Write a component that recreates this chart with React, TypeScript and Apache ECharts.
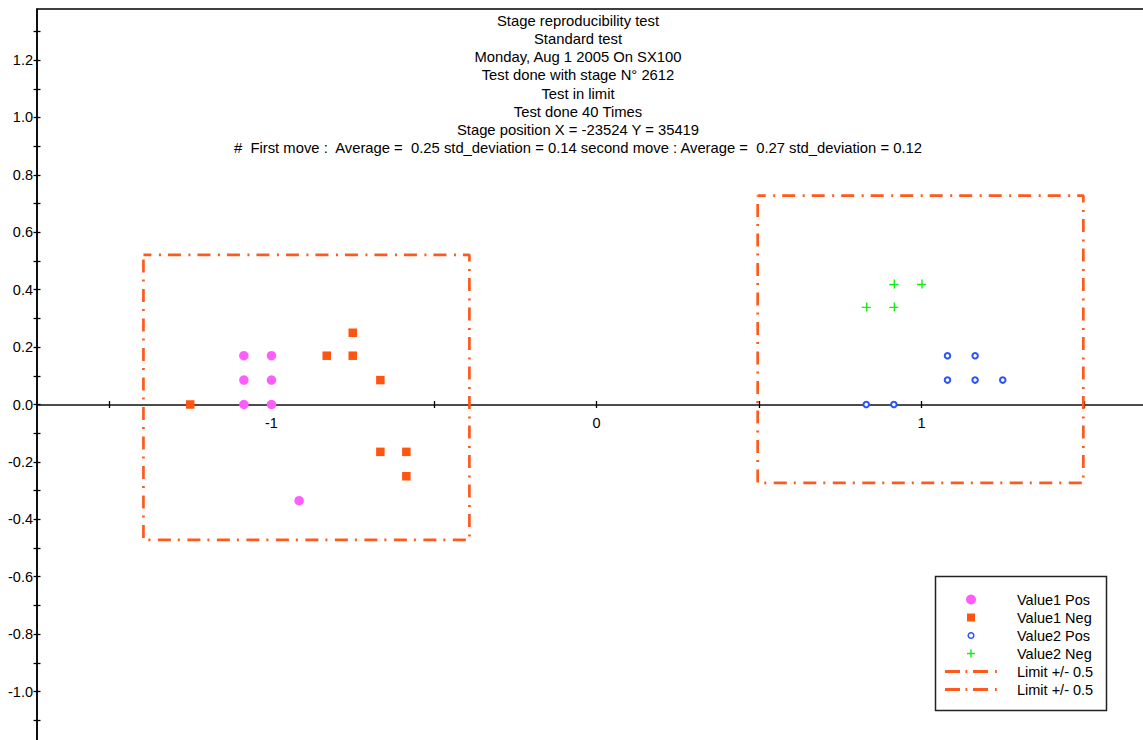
import React, { useEffect, useRef } from "react";
import * as echarts from "echarts";

// Header lines printed above the plot
const titleLines = [
  "Stage reproducibility test",
  "Standard test",
  "Monday, Aug 1 2005 On SX100",
  "Test done with stage N° 2612",
  "Test in limit",
  "Test done 40 Times",
  "Stage position X = -23524 Y = 35419",
  "#  First move :  Average =  0.25 std_deviation = 0.14 second move : Average =  0.27 std_deviation = 0.12",
];

// Measured stage offsets [x, y]
const value1Pos: [number, number][] = [
  [-1.085, 0.17], [-1.0, 0.17],
  [-1.085, 0.085], [-1.0, 0.085],
  [-1.085, 0], [-1.0, 0],
  [-0.915, -0.335],
];
const value1Neg: [number, number][] = [
  [-1.25, 0],
  [-0.83, 0.17],
  [-0.75, 0.25], [-0.75, 0.17],
  [-0.665, 0.085],
  [-0.665, -0.165], [-0.585, -0.165],
  [-0.585, -0.25],
];
const value2Pos: [number, number][] = [
  [1.08, 0.17], [1.165, 0.17],
  [1.08, 0.085], [1.165, 0.085], [1.25, 0.085],
  [0.83, 0], [0.915, 0],
];
const value2Neg: [number, number][] = [
  [0.915, 0.42], [1.0, 0.42],
  [0.83, 0.34], [0.915, 0.34],
];

// Tolerance boxes (+/- 0.5 around each move)
const limitBox1: [number, number][] = [
  [-1.394, 0.521], [-0.391, 0.521], [-0.391, -0.472], [-1.394, -0.472], [-1.394, 0.521],
];
const limitBox2: [number, number][] = [
  [0.496, 0.728], [1.498, 0.728], [1.498, -0.273], [0.496, -0.273], [0.496, 0.728],
];

// Axis ranges and tick positions
const xRange = [-1.7215, 1.6908];
const yRange = [-1.1794, 1.378];
const xTickValues = [-1.5, -1, -0.5, 0, 0.5, 1, 1.5];
const xLabelValues = [-1, 0, 1];
const yTickValues = [-1.1, -1.0, -0.9, -0.8, -0.7, -0.6, -0.5, -0.4, -0.3, -0.2, -0.1, 0, 0.1, 0.2, 0.3, 0.4, 0.5, 0.6, 0.7, 0.8, 0.9, 1.0, 1.1, 1.2, 1.3];
const yLabelValues = [-1.0, -0.8, -0.6, -0.4, -0.2, 0, 0.2, 0.4, 0.6, 0.8, 1.0, 1.2];

const FONT = '"Liberation Sans", Arial, sans-serif';
const FS = 14.5;
const TITLE_FS = 14.8;
const LIMIT_COLOR = "#ff5a1e";
const DASH_DOT = [13, 7.5, 2, 7];
const plusPath = "path://M0,4.3H9V5.7H0Z M4.3,0H5.7V9H4.3Z";
// Dash-dot swatch for the legend (52 x 10 box)
const dashDotIcon =
  "path://M0,0M52,10M0,3.5H15V6.5H0Z M20.5,3.5H22.3V6.5H20.5Z M28,3.5H43V6.5H28Z M50,3.5H51.8V6.5H50Z";

// Grid geometry (pixels) used to put the x axis on the zero line
const GRID_TOP = 9;
const GRID_BOTTOM = -3;
const CHART_H = 740;

export default function App() {
  const ref = useRef<HTMLDivElement>(null);

  useEffect(() => {
    if (!ref.current) return;
    const chart = echarts.init(ref.current, undefined, { renderer: "svg" });

    const gridH = CHART_H - GRID_TOP - GRID_BOTTOM;
    const zeroY = GRID_TOP + (yRange[1] / (yRange[1] - yRange[0])) * gridH;
    const xOffset = -(GRID_TOP + gridH - zeroY);

    const tickStyle = { color: "#000", width: 1.3 };

    chart.setOption({
      animation: false,
      backgroundColor: "#fff",
      grid: {
        left: 37,
        top: GRID_TOP,
        right: -3,
        bottom: GRID_BOTTOM,
        show: true,
        borderColor: "#000",
        borderWidth: 1.5,
        backgroundColor: "transparent",
        containLabel: false,
        outerBoundsMode: "none",
      },
      xAxis: [
        {
          type: "value",
          position: "bottom",
          offset: xOffset,
          min: xRange[0],
          max: xRange[1],
          axisLine: { onZero: false, lineStyle: { color: "#111", width: 1.5 } },
          axisTick: { show: true, length: 3.5, customValues: xTickValues, lineStyle: tickStyle },
          axisLabel: {
            customValues: xLabelValues,
            margin: 11,
            color: "#000",
            fontFamily: FONT,
            fontSize: FS,
            formatter: (v: number) => String(v),
          },
          splitLine: { show: false },
        },
        {
          type: "value",
          position: "bottom",
          offset: xOffset,
          min: xRange[0],
          max: xRange[1],
          axisLine: { show: false, onZero: false },
          axisTick: { show: true, inside: true, length: 3.5, customValues: xTickValues, lineStyle: tickStyle },
          axisLabel: { show: false },
          splitLine: { show: false },
        },
      ],
      yAxis: [
        {
          type: "value",
          position: "left",
          min: yRange[0],
          max: yRange[1],
          axisLine: { show: true, onZero: false, lineStyle: { color: "#000", width: 1.5 } },
          axisTick: { show: true, length: 3.5, customValues: yTickValues, lineStyle: tickStyle },
          axisLabel: {
            customValues: yLabelValues,
            margin: 4,
            color: "#000",
            fontFamily: FONT,
            fontSize: FS,
            formatter: (v: number) => v.toFixed(1),
          },
          splitLine: { show: false },
        },
        {
          type: "value",
          position: "left",
          min: yRange[0],
          max: yRange[1],
          axisLine: { show: false, onZero: false },
          axisTick: { show: true, inside: true, length: 3.5, customValues: yTickValues, lineStyle: tickStyle },
          axisLabel: { show: false },
          splitLine: { show: false },
        },
      ],
      legend: {
        orient: "vertical",
        left: 945,
        top: 592,
        padding: 0,
        itemWidth: 52,
        itemHeight: 10,
        itemGap: 3,
        selectedMode: false,
        formatter: (name: string) => name.trim(),
        textStyle: { color: "#000", fontFamily: FONT, fontSize: FS, padding: [0, 0, 0, 15] },
        data: [
          { name: "Value1 Pos", icon: "circle" },
          { name: "Value1 Neg", icon: "path://M0,0M10,10M1,1H9V9H1Z" },
          {
            name: "Value2 Pos",
            icon: "path://M0,0M10,10M2.2,5A2.8,2.8,0,1,1,7.8,5A2.8,2.8,0,1,1,2.2,5Z",
            itemStyle: { color: "#fff", borderColor: "#2a52ff", borderWidth: 1.5 },
          },
          { name: "Value2 Neg", icon: "path://M0,0M10,10M1,4.3H9V5.7H1Z M4.3,1H5.7V9H4.3Z" },
          { name: "Limit +/- 0.5", icon: dashDotIcon, itemStyle: { color: LIMIT_COLOR, borderWidth: 0 } },
          { name: "Limit +/- 0.5 ", icon: dashDotIcon, itemStyle: { color: LIMIT_COLOR, borderWidth: 0 } },
        ],
      },
      graphic: [
        ...titleLines.map((t, i) => ({
          type: "text",
          x: 578,
          y: 20.7 + i * 18.23,
          silent: true,
          style: {
            text: t,
            fill: "#000",
            fontFamily: FONT,
            fontSize: TITLE_FS,
            align: "center",
            verticalAlign: "middle",
          },
        })),
        {
          type: "rect",
          z: 3,
          silent: true,
          shape: { x: 935.5, y: 576.5, width: 171, height: 134 },
          style: { fill: "#fff", stroke: "#222", lineWidth: 1.5 },
        },
      ],
      series: [
        {
          name: "Limit +/- 0.5",
          type: "line",
          data: limitBox1,
          symbol: "none",
          silent: true,
          itemStyle: { color: LIMIT_COLOR },
          lineStyle: { color: LIMIT_COLOR, width: 2.7, type: DASH_DOT, dashOffset: 5 },
          z: 1,
        },
        {
          name: "Limit +/- 0.5 ",
          type: "line",
          data: limitBox2,
          symbol: "none",
          silent: true,
          itemStyle: { color: LIMIT_COLOR },
          lineStyle: { color: LIMIT_COLOR, width: 2.7, type: DASH_DOT, dashOffset: 5 },
          z: 1,
        },
        {
          name: "Value1 Pos",
          type: "scatter",
          data: value1Pos,
          symbol: "circle",
          symbolSize: 9.5,
          itemStyle: { color: "#ff5cff", opacity: 1 },
          z: 3,
        },
        {
          name: "Value1 Neg",
          type: "scatter",
          data: value1Neg,
          symbol: "rect",
          symbolSize: 8.5,
          itemStyle: { color: "#ff5511", opacity: 1 },
          z: 3,
        },
        {
          name: "Value2 Pos",
          type: "scatter",
          data: value2Pos,
          symbol: "emptyCircle",
          symbolSize: 5.5,
          itemStyle: { color: "#2a52ff", borderWidth: 1.5, opacity: 1 },
          z: 3,
        },
        {
          name: "Value2 Neg",
          type: "scatter",
          data: value2Neg,
          symbol: plusPath,
          symbolSize: 9,
          itemStyle: { color: "#11ee11", opacity: 1 },
          z: 3,
        },
      ],
    });

    return () => chart.dispose();
  }, []);

  return (
    <div
      ref={ref}
      style={{ position: "absolute", left: 0, top: 0, width: 1143, height: 740, background: "#fff" }}
    />
  );
}
